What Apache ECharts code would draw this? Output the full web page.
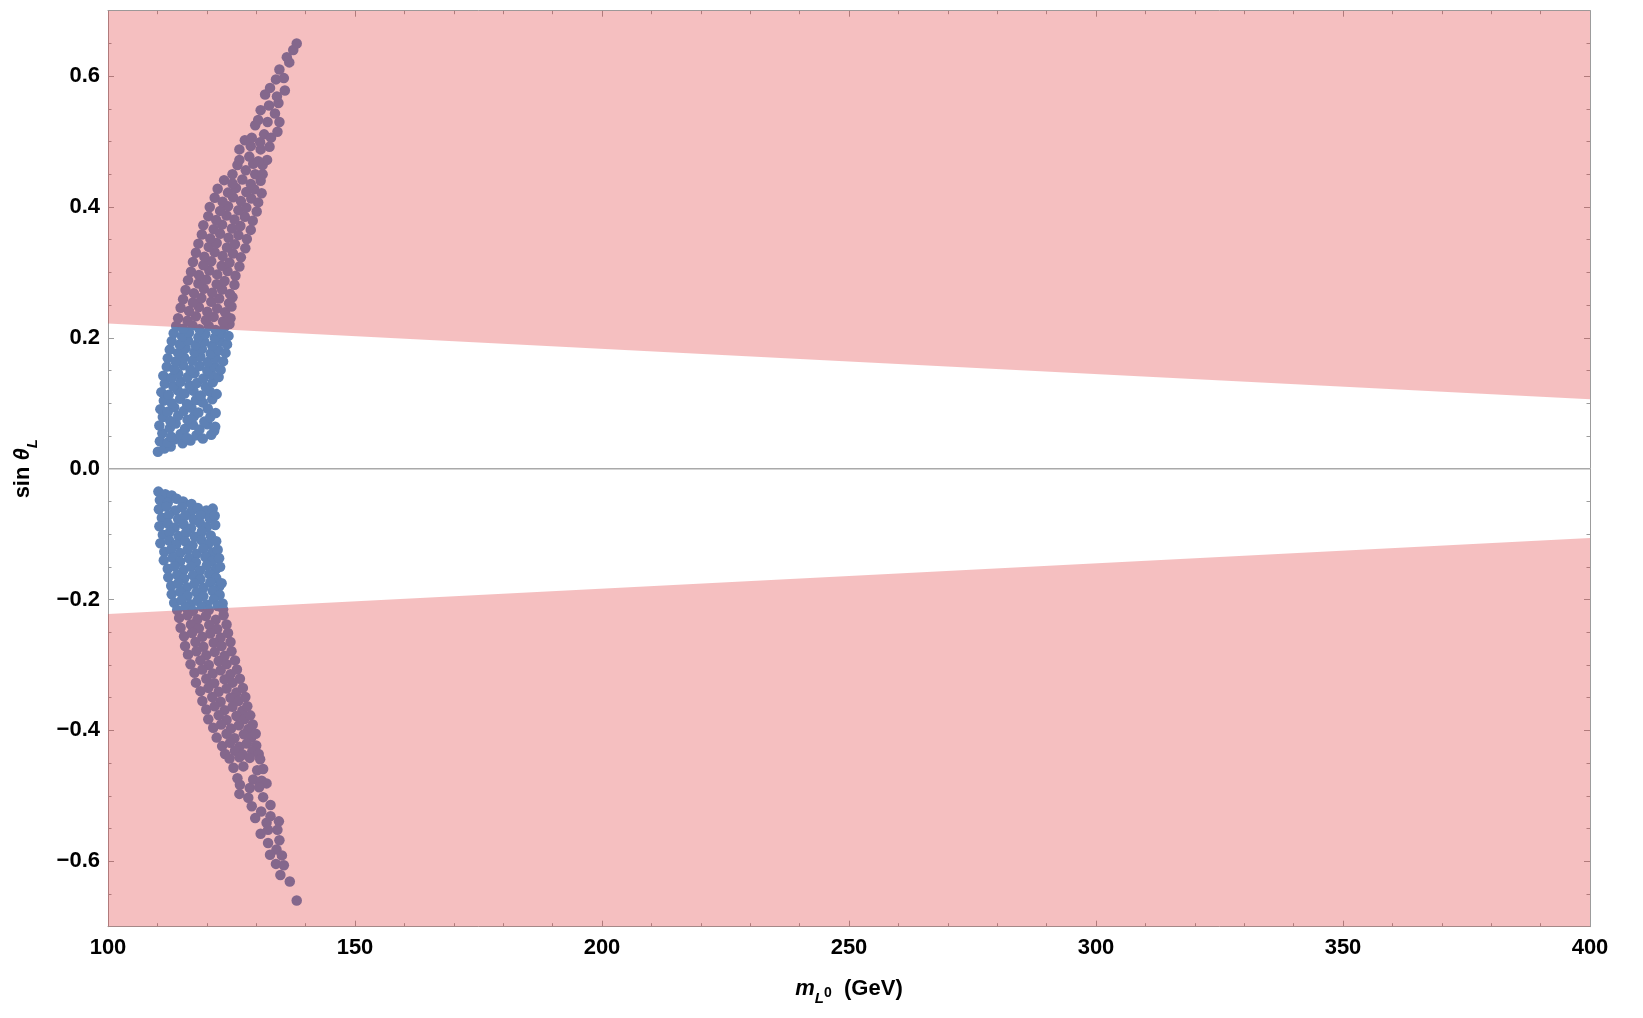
<!DOCTYPE html>
<html>
<head>
<meta charset="utf-8">
<script src="https://cdn.jsdelivr.net/npm/echarts@6/dist/echarts.min.js"></script>
<style>
html,body{margin:0;padding:0;background:#fff;}
#chart{width:1643px;height:1018px;}
</style>
</head>
<body>
<div id="chart"></div>
<script>
// ---- data ----
const xTicks = [100, 150, 200, 250, 300, 350, 400];
const yTicks = [-0.6, -0.4, -0.2, 0, 0.2, 0.4, 0.6];
const bandMass = [100, 250, 400];
const bandUpper = [0.222, 0.164, 0.106];
const bandLower = [-0.222, -0.164, -0.106];
const zeroLine = [0, 0, 0];

const clusterPos = [
[110.1,0.026],[111.4,0.031],[112.7,0.034],
[110.5,0.042],[112.1,0.040],[113.5,0.045],[115.1,0.039],[116.7,0.043],
[111.0,0.054],[112.8,0.049],[114.7,0.053],[116.0,0.047],[117.9,0.051],[119.2,0.046],[120.9,0.052],[121.5,0.058],
[110.4,0.066],[112.5,0.062],[113.7,0.069],[115.6,0.061],[117.2,0.067],[118.5,0.060],[120.1,0.068],[121.7,0.064],
[111.1,0.079],[112.6,0.073],[114.2,0.081],[116.1,0.075],[117.4,0.080],[119.5,0.072],[120.7,0.079],
[110.6,0.091],[112.1,0.087],[113.4,0.094],[115.3,0.088],[116.9,0.093],[118.3,0.086],[120.2,0.092],[121.8,0.085],
[111.3,0.104],[112.9,0.100],[114.6,0.107],[116.0,0.099],[117.8,0.105],[119.2,0.101],[121.1,0.106],
[110.8,0.117],[112.3,0.113],[114.1,0.120],[115.5,0.115],[117.3,0.119],[118.8,0.112],[120.6,0.118],[122.0,0.114],
[111.5,0.130],[113.2,0.126],[114.7,0.133],[116.5,0.127],[118.0,0.131],[119.8,0.125],[121.2,0.132],
[111.2,0.142],[112.9,0.139],[114.2,0.145],[116.1,0.140],[117.5,0.146],[119.3,0.138],[120.9,0.144],[122.4,0.140],
[111.9,0.156],[113.4,0.152],[115.2,0.158],[116.7,0.151],[118.5,0.157],[120.1,0.150],[121.6,0.156],[122.8,0.151],
[112.1,0.169],[113.7,0.164],[115.4,0.170],[117.1,0.165],[118.7,0.171],[120.2,0.163],[121.8,0.169],[123.3,0.164],
[112.5,0.182],[114.2,0.177],[115.7,0.184],[117.5,0.178],[119.0,0.183],[120.8,0.176],[122.4,0.181],[123.8,0.177],
[112.9,0.195],[114.5,0.190],[116.2,0.196],[117.7,0.189],[119.5,0.194],[121.1,0.188],[122.7,0.195],[124.1,0.190],
[113.3,0.207],[115.0,0.202],[116.4,0.208],[118.3,0.201],[119.7,0.206],[121.6,0.200],[123.0,0.207],[124.4,0.203],
[113.8,0.218],[115.2,0.214],[117.1,0.219],[118.5,0.213],[120.4,0.218],[121.8,0.212],[123.6,0.217],[124.6,0.221],
[114.2,0.230],[116.1,0.226],[117.8,0.233],[119.8,0.227],[121.4,0.232],[123.3,0.225],[124.8,0.230],
[114.7,0.246],[116.4,0.241],[118.4,0.247],[120.1,0.240],[122.1,0.245],[123.7,0.239],[125.0,0.248],
[115.2,0.259],[117.2,0.254],[118.9,0.261],[120.9,0.255],[122.5,0.260],[124.5,0.253],[125.2,0.262],
[115.7,0.273],[117.4,0.268],[119.4,0.275],[121.1,0.269],[123.1,0.274],[124.7,0.267],
[116.2,0.288],[118.3,0.283],[119.9,0.289],[122.0,0.282],[123.6,0.287],[125.6,0.281],
[116.8,0.301],[118.4,0.296],[120.5,0.303],[122.1,0.297],[124.2,0.302],[125.8,0.295],
[117.2,0.316],[119.3,0.311],[120.9,0.317],[123.0,0.310],[124.6,0.315],[126.6,0.309],
[117.8,0.330],[119.5,0.324],[121.6,0.331],[123.2,0.325],[125.3,0.329],[126.9,0.323],
[118.3,0.344],[120.4,0.339],[122.0,0.345],[124.1,0.338],[125.7,0.343],[127.8,0.337],
[119.0,0.358],[120.7,0.352],[122.7,0.359],[124.4,0.353],[126.4,0.357],[128.1,0.351],
[119.3,0.372],[121.4,0.366],[123.1,0.373],[125.1,0.367],[126.8,0.371],[128.9,0.365],
[120.3,0.386],[121.9,0.380],[124.0,0.387],[125.6,0.381],[127.7,0.385],[129.3,0.379],
[120.6,0.400],[122.7,0.394],[124.3,0.401],[126.4,0.395],[128.0,0.399],[130.1,0.393],
[121.6,0.414],[123.2,0.408],[125.3,0.415],[126.9,0.409],[129.0,0.413],[130.4,0.407],
[122.2,0.428],[124.3,0.422],[125.9,0.429],[128.0,0.423],[129.6,0.427],[131.1,0.421],
[123.5,0.441],[125.2,0.436],[127.2,0.442],[128.9,0.435],[130.9,0.440],
[125.2,0.450],[129.8,0.450],[131.3,0.450],[127.9,0.456],[126.2,0.464],[129.4,0.466],[131.3,0.464],
[128.6,0.477],[132.2,0.472],[126.6,0.472],[130.4,0.470],[128.9,0.493],[126.6,0.488],[130.9,0.488],
[127.7,0.502],[129.1,0.506],[130.8,0.499],[132.7,0.492],[131.6,0.511],[133.0,0.506],[134.3,0.515],
[129.8,0.525],[130.4,0.533],[132.3,0.530],[134.7,0.530],[133.8,0.543],[130.9,0.548],[132.6,0.555],
[134.5,0.559],[131.8,0.572],[134.2,0.569],[132.8,0.582],[135.8,0.578],[134.0,0.595],[135.6,0.597],
[134.7,0.610],[136.7,0.621],[136.2,0.629],[137.5,0.640],[138.2,0.650]
];

const clusterNeg = [
[110.2,-0.035],[111.6,-0.039],[112.9,-0.041],
[110.5,-0.048],[112.1,-0.052],[113.9,-0.046],[115.2,-0.050],[116.9,-0.054],
[110.3,-0.062],[111.8,-0.058],[113.6,-0.064],[115.0,-0.059],[116.8,-0.066],[118.2,-0.060],[119.9,-0.064],[121.2,-0.061],
[110.9,-0.075],[112.3,-0.071],[114.2,-0.077],[115.6,-0.072],[117.4,-0.078],[118.8,-0.071],[120.6,-0.076],[121.6,-0.072],
[110.4,-0.088],[112.1,-0.084],[113.5,-0.090],[115.3,-0.085],[116.8,-0.091],[118.6,-0.083],[120.0,-0.089],[121.7,-0.086],
[111.1,-0.101],[112.5,-0.097],[114.3,-0.103],[115.8,-0.098],[117.6,-0.104],[119.0,-0.096],[120.8,-0.102],
[110.6,-0.114],[112.4,-0.110],[113.8,-0.116],[115.6,-0.111],[117.1,-0.117],[118.9,-0.109],[120.3,-0.115],[121.9,-0.111],
[111.4,-0.127],[112.8,-0.123],[114.6,-0.129],[116.1,-0.124],[117.9,-0.130],[119.3,-0.122],[121.1,-0.128],[122.2,-0.124],
[111.3,-0.140],[113.1,-0.136],[114.6,-0.142],[116.4,-0.137],[117.8,-0.143],[119.7,-0.135],[121.1,-0.141],[122.5,-0.137],
[112.1,-0.153],[113.5,-0.149],[115.3,-0.155],[116.8,-0.150],[118.6,-0.156],[120.0,-0.148],[121.8,-0.154],[122.7,-0.150],
[112.2,-0.166],[114.0,-0.162],[115.4,-0.168],[117.2,-0.163],[118.7,-0.169],[120.5,-0.161],[121.9,-0.167],
[112.8,-0.179],[114.2,-0.175],[116.0,-0.181],[117.5,-0.176],[119.3,-0.182],[120.7,-0.174],[122.5,-0.180],[123.0,-0.175],
[112.9,-0.192],[114.6,-0.188],[116.1,-0.194],[117.9,-0.189],[119.3,-0.195],[121.2,-0.187],[122.6,-0.193],
[113.4,-0.205],[114.9,-0.201],[116.7,-0.207],[118.1,-0.202],[120.0,-0.208],[121.4,-0.200],[123.2,-0.206],
[114.0,-0.216],[115.7,-0.212],[117.2,-0.217],[119.0,-0.211],[120.4,-0.216],[122.2,-0.210],[123.3,-0.215],
[114.4,-0.228],[116.1,-0.224],[118.1,-0.230],[119.8,-0.225],[121.8,-0.231],[123.4,-0.224],
[114.7,-0.243],[116.8,-0.238],[118.4,-0.244],[120.5,-0.239],[122.1,-0.245],[124.0,-0.238],
[115.4,-0.256],[117.0,-0.251],[119.1,-0.257],[120.7,-0.252],[122.8,-0.258],[124.3,-0.251],
[115.6,-0.271],[117.7,-0.265],[119.3,-0.272],[121.4,-0.266],[123.0,-0.271],[124.8,-0.265],
[116.2,-0.284],[117.9,-0.279],[119.9,-0.285],[121.6,-0.280],[123.6,-0.286],[125.0,-0.279],
[116.7,-0.299],[118.7,-0.293],[120.4,-0.300],[122.4,-0.294],[124.0,-0.299],[125.7,-0.293],
[117.5,-0.312],[119.1,-0.307],[121.2,-0.313],[122.8,-0.308],[124.8,-0.314],[126.1,-0.307],
[117.8,-0.327],[119.9,-0.321],[121.5,-0.328],[123.6,-0.322],[125.2,-0.327],[126.7,-0.321],
[118.7,-0.340],[120.3,-0.335],[122.4,-0.341],[124.0,-0.336],[126.0,-0.342],[127.3,-0.335],
[119.1,-0.355],[121.1,-0.349],[122.8,-0.356],[124.8,-0.350],[126.4,-0.355],[127.8,-0.349],
[119.9,-0.368],[121.6,-0.363],[123.6,-0.369],[125.2,-0.364],[127.2,-0.370],[128.2,-0.363],
[120.3,-0.383],[122.4,-0.377],[124.0,-0.384],[126.0,-0.378],[127.6,-0.383],[128.8,-0.377],
[121.3,-0.396],[122.9,-0.391],[124.9,-0.397],[126.5,-0.392],[128.4,-0.398],[129.3,-0.391],
[122.0,-0.411],[124.0,-0.405],[125.6,-0.412],[127.5,-0.406],[129.0,-0.411],[129.9,-0.405],
[123.1,-0.424],[124.7,-0.419],[126.6,-0.425],[128.1,-0.420],[130.0,-0.423],
[123.7,-0.436],[125.7,-0.431],[127.3,-0.437],[129.2,-0.432],[130.5,-0.436],
[124.6,-0.443],[126.6,-0.441],[128.7,-0.442],[130.8,-0.444],[125.4,-0.457],[127.4,-0.455],
[130.2,-0.461],[131.4,-0.459],[126.2,-0.473],[129.4,-0.475],[131.1,-0.477],[126.7,-0.483],
[132.1,-0.481],[128.7,-0.488],[130.6,-0.487],[126.6,-0.497],[131.4,-0.502],[128.4,-0.503],
[129.1,-0.516],[132.9,-0.514],[131.0,-0.524],[129.8,-0.534],[132.9,-0.531],[132.1,-0.541],
[134.6,-0.539],[134.3,-0.552],[132.4,-0.552],[130.9,-0.558],[134.7,-0.568],[132.4,-0.572],
[134.1,-0.582],[132.8,-0.590],[135.2,-0.591],[134.0,-0.604],[135.6,-0.606],[134.9,-0.621],
[136.8,-0.631],[138.2,-0.660]
];

// ---- styling ----
const FONT = "'Liberation Sans', Arial, Helvetica, sans-serif";
const GRAY = '#9c9c9c';
const labelStyle = {color: '#000', fontSize: 22, fontWeight: 'bold', fontFamily: FONT};

function fmtY(v) {
  const s = Math.abs(v).toFixed(1);
  return (v < -1e-9 ? '\u2212' : '') + s;
}

function xAx(pos, showLabel, extra) {
  return Object.assign({
    type: 'value', position: pos, min: xTicks[0], max: xTicks[xTicks.length - 1],
    interval: xTicks[1] - xTicks[0],
    axisLine: {show: true, onZero: false, lineStyle: {color: GRAY, width: 1}},
    axisTick: {show: true, inside: true, length: 6, lineStyle: {color: GRAY, width: 1}},
    minorTick: {show: true, splitNumber: 5, length: 3.5, lineStyle: {color: GRAY, width: 1}},
    axisLabel: {show: showLabel, margin: 10, ...labelStyle},
    splitLine: {show: false}, minorSplitLine: {show: false}
  }, extra || {});
}

function yAxMajor(pos, showLabel) {
  return {
    type: 'value', position: pos, min: -0.7, max: 0.7,
    axisLine: {show: true, onZero: false, lineStyle: {color: GRAY, width: 1}},
    axisTick: {show: true, inside: true, length: 6, customValues: yTicks, lineStyle: {color: GRAY, width: 1}},
    axisLabel: {show: showLabel, margin: 8, customValues: yTicks, formatter: fmtY, ...labelStyle},
    splitLine: {show: false}
  };
}
function yAxMinor(pos) {
  return {
    type: 'value', position: pos, min: -0.7, max: 0.7, interval: 0.05,
    axisLine: {show: false, onZero: false},
    axisTick: {show: true, inside: true, length: 3.5, lineStyle: {color: GRAY, width: 1}},
    axisLabel: {show: false},
    splitLine: {show: false}
  };
}

const yMain = yAxMajor('left', true);
yMain.name = '{t|sin }{th|\u03b8}{sub|L}';
yMain.nameLocation = 'middle';
yMain.nameRotate = 90;
yMain.nameGap = 68;
yMain.nameTextStyle = {
  fontFamily: FONT,
  rich: {
    t: {fontSize: 22, fontWeight: 'bold', fontFamily: FONT, color: '#000', lineHeight: 34, verticalAlign: 'middle'},
    th: {fontSize: 22, fontWeight: 'bold', fontStyle: 'italic', fontFamily: FONT, color: '#000', lineHeight: 34, verticalAlign: 'middle'},
    sub: {fontSize: 15, fontWeight: 'bold', fontStyle: 'italic', fontFamily: FONT, color: '#000', lineHeight: 15, verticalAlign: 'bottom'}
  }
};

const xMain = xAx('bottom', true, {
  name: '{m|m}{sub|L}{sup|0}{t|  (GeV)}',
  nameLocation: 'middle',
  nameGap: 44,
  nameTextStyle: {
    fontFamily: FONT,
    rich: {
      m: {fontSize: 22, fontWeight: 'bold', fontStyle: 'italic', fontFamily: FONT, color: '#000', lineHeight: 36, verticalAlign: 'middle'},
      sub: {fontSize: 15, fontWeight: 'bold', fontStyle: 'italic', fontFamily: FONT, color: '#000', lineHeight: 15, verticalAlign: 'bottom'},
      sup: {fontSize: 14, fontWeight: 'bold', fontFamily: FONT, color: '#000', lineHeight: 14, verticalAlign: 'middle', padding: [8, 0, 0, 0]},
      t: {fontSize: 22, fontWeight: 'bold', fontFamily: FONT, color: '#000', lineHeight: 36, verticalAlign: 'middle'}
    }
  }
});

const BLUE = '#5e81b5';
const OVERLAY = 'rgba(222, 42, 45, 0.3)';

const option = {
  animation: false,
  backgroundColor: '#ffffff',
  grid: {left: 108, right: 53, top: 10.7, bottom: 91.3, containLabel: false},
  xAxis: [xMain, xAx('top', false)],
  yAxis: [yMain, yAxMajor('right', false), yAxMinor('left'), yAxMinor('right')],
  series: [
    {
      type: 'scatter', xAxisIndex: 0, yAxisIndex: 0, z: 2,
      symbol: 'circle', symbolSize: 10.5,
      itemStyle: {color: BLUE, opacity: 1},
      data: clusterPos, silent: true
    },
    {
      type: 'scatter', xAxisIndex: 0, yAxisIndex: 0, z: 2,
      symbol: 'circle', symbolSize: 10.5,
      itemStyle: {color: BLUE, opacity: 1},
      data: clusterNeg, silent: true
    },
    {
      type: 'line', xAxisIndex: 0, yAxisIndex: 0, z: 5, silent: true,
      symbol: 'none', showSymbol: false,
      lineStyle: {width: 0, opacity: 0},
      areaStyle: {color: OVERLAY, origin: 'end', opacity: 1},
      data: bandMass.map((m, i) => [m, bandUpper[i]])
    },
    {
      type: 'line', xAxisIndex: 0, yAxisIndex: 0, z: 5, silent: true,
      symbol: 'none', showSymbol: false,
      lineStyle: {width: 0, opacity: 0},
      areaStyle: {color: OVERLAY, origin: 'start', opacity: 1},
      data: bandMass.map((m, i) => [m, bandLower[i]])
    },
    {
      type: 'line', xAxisIndex: 0, yAxisIndex: 0, z: 6, silent: true,
      symbol: 'none', showSymbol: false,
      lineStyle: {width: 1.5, color: '#a9a9a9'},
      data: bandMass.map((m, i) => [m, zeroLine[i]])
    }
  ]
};

const chart = echarts.init(document.getElementById('chart'), null, {renderer: 'canvas'});
chart.setOption(option);
</script>
</body>
</html>
